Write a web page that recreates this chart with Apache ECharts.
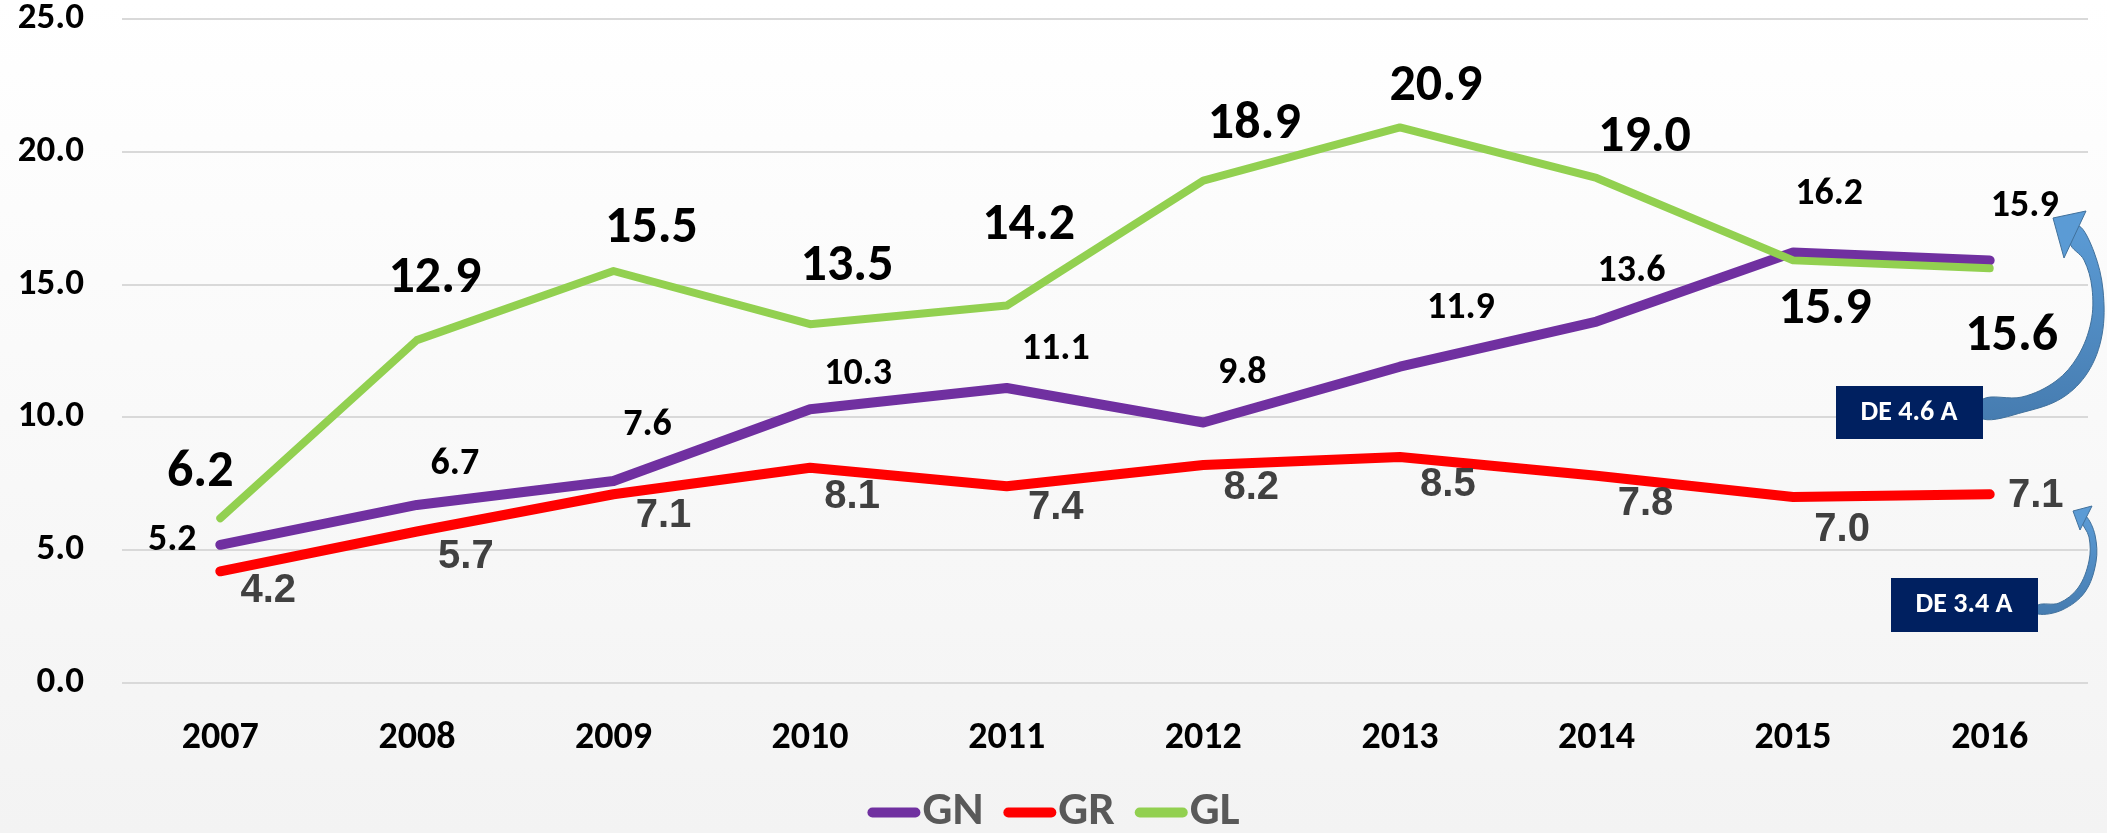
<!DOCTYPE html>
<html>
<head>
<meta charset="utf-8">
<title>GN GR GL 2007-2016</title>
<script src="https://cdn.jsdelivr.net/npm/echarts@6/dist/echarts.min.js"></script>
<style>
  html, body { margin: 0; padding: 0; }
  #main { width: 2107px; height: 833px; }
</style>
</head>
<body>
<div id="main"></div>
<script>
// data
var years = ['2007', '2008', '2009', '2010', '2011', '2012', '2013', '2014', '2015', '2016'];
var gn = [5.2, 6.7, 7.6, 10.3, 11.1, 9.8, 11.9, 13.6, 16.2, 15.9];
var gr = [4.2, 5.7, 7.1, 8.1, 7.4, 8.2, 8.5, 7.8, 7.0, 7.1];
var gl = [6.2, 12.9, 15.5, 13.5, 14.2, 18.9, 20.9, 19.0, 15.9, 15.6];
var yTicks = [0, 5, 10, 15, 20, 25];

// where each value label sits relative to its point (dx, dy)
var gnOffsets = [[-48, -4], [38, -40], [34, -55], [48, -35], [49, -38], [39, -49], [61, -58], [35, -50], [36, -58], [35, -54]];
var grOffsets = [[48, 20], [49, 25], [50, 22], [42, 29], [49, 22], [48, 23], [48, 28], [49, 28], [49, 33], [46, 2]];
var glOffsets = [[-20, -45], [18, -61], [38, -42], [37, -57], [22, -80], [51, -56], [36, -40], [48, -40], [32, 50], [22, 69]];

var calibri = 'Carlito, Lato, sans-serif';

function makeData(values, offsets) {
  return values.map(function (v, i) {
    return { value: v, label: { offset: offsets[i] } };
  });
}

function makeSeries(name, color, lineWidth, values, offsets, labelStyle) {
  return {
    name: name,
    type: 'line',
    data: makeData(values, offsets),
    symbol: 'circle',
    symbolSize: 2,
    showSymbol: true,
    itemStyle: { color: color },
    lineStyle: { color: color, width: lineWidth, cap: 'round', join: 'round' },
    label: Object.assign({
      show: true,
      position: 'inside',
      fontWeight: 'bold',
      formatter: function (p) { return p.value.toFixed(1); }
    }, labelStyle),
    emphasis: { disabled: true },
    animation: false
  };
}

var myChart = echarts.init(document.getElementById('main'));

var arrowFill = new echarts.graphic.LinearGradient(0, 0, 0, 1, [
  { offset: 0, color: '#5b9bd5' },
  { offset: 1, color: '#467cb0' }
]);

var option = {
  backgroundColor: new echarts.graphic.LinearGradient(0, 0, 0, 1, [
    { offset: 0, color: '#ffffff' },
    { offset: 1, color: '#f3f3f3' }
  ]),
  textStyle: { fontFamily: calibri },
  grid: { left: 122, right: 19, top: 17, bottom: 150 },
  xAxis: {
    type: 'category',
    data: years,
    boundaryGap: true,
    axisLine: { show: false },
    axisTick: { show: false },
    axisLabel: { color: '#000', fontSize: 38, fontWeight: 'bold', fontFamily: calibri, margin: 36 }
  },
  yAxis: {
    type: 'value',
    min: yTicks[0],
    max: yTicks[yTicks.length - 1],
    interval: 5,
    axisLine: { show: false },
    axisTick: { show: false },
    axisLabel: {
      color: '#000', fontSize: 37, fontWeight: 'bold', fontFamily: calibri, margin: 38,
      formatter: function (v) { return v.toFixed(1); }
    },
    splitLine: { lineStyle: { color: '#d9d9d9', width: 2 } }
  },
  legend: {
    left: 'center',
    top: 784,
    itemWidth: 53,
    itemHeight: 10,
    itemGap: 20,
    icon: 'path://M5,0 H48 A5,5 0 0 1 48,10 H5 A5,5 0 0 1 5,0 Z',
    textStyle: { color: '#595959', fontSize: 47, fontWeight: 'bold', fontFamily: calibri, padding: [0, 0, 0, -3] },
    data: ['GN', 'GR', 'GL']
  },
  series: [
    makeSeries('GN', '#7030a0', 10, gn, gnOffsets, { color: '#000', fontSize: 38, fontFamily: calibri }),
    makeSeries('GR', '#ff0000', 10, gr, grOffsets, { color: '#404040', fontSize: 40, fontFamily: '"Liberation Sans", Arial, sans-serif' }),
    makeSeries('GL', '#92d050', 8, gl, glOffsets, { color: '#000', fontSize: 52, fontFamily: calibri })
  ],
  // the two callout boxes with their curved arrows
  graphic: [
    {
      type: 'polygon', z: 100,
      shape: {
        smooth: 0.35,
        points: [[2079, 226], [2094, 252], [2103, 290], [2102, 335], [2088, 372], [2062, 398], [2024, 412], [1983, 419],
                 [1983, 399], [2022, 397], [2056, 381], [2078, 356], [2091, 322], [2092, 288], [2084, 260], [2070, 243]]
      },
      style: { fill: arrowFill, stroke: '#41719c', lineWidth: 1 }
    },
    {
      type: 'polygon', z: 100,
      shape: { points: [[2053, 218], [2086, 211], [2064, 258]] },
      style: { fill: '#5b9bd5', stroke: '#41719c', lineWidth: 1 }
    },
    {
      type: 'polygon', z: 100,
      shape: {
        smooth: 0.35,
        points: [[2086, 516], [2095, 535], [2096, 562], [2085, 592], [2062, 610], [2038, 614],
                 [2038, 605], [2059, 603], [2078, 588], [2089, 561], [2089, 537], [2081, 520]]
      },
      style: { fill: arrowFill, stroke: '#41719c', lineWidth: 1 }
    },
    {
      type: 'polygon', z: 100,
      shape: { points: [[2073, 511], [2092, 506], [2080, 530]] },
      style: { fill: '#5b9bd5', stroke: '#41719c', lineWidth: 1 }
    },
    {
      type: 'rect', z: 101,
      shape: { x: 1836, y: 386, width: 147, height: 53 },
      style: { fill: '#002060' }
    },
    {
      type: 'text', z: 102, x: 1909, y: 413,
      style: { text: 'DE 4.6 A', fill: '#fff', font: 'bold 28px Carlito, Lato, sans-serif', textAlign: 'center', textVerticalAlign: 'middle' }
    },
    {
      type: 'rect', z: 101,
      shape: { x: 1891, y: 578, width: 147, height: 54 },
      style: { fill: '#002060' }
    },
    {
      type: 'text', z: 102, x: 1964, y: 605,
      style: { text: 'DE 3.4 A', fill: '#fff', font: 'bold 28px Carlito, Lato, sans-serif', textAlign: 'center', textVerticalAlign: 'middle' }
    }
  ]
};

myChart.setOption(option);
</script>
</body>
</html>
